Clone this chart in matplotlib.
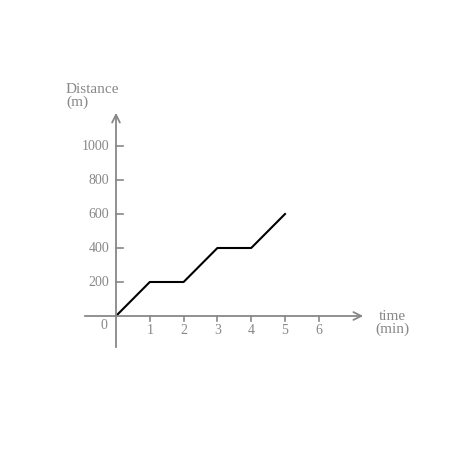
import matplotlib
matplotlib.use("Agg")
import matplotlib.pyplot as plt

time = [0, 1, 2, 3, 4, 5]
distance = [0, 200, 200, 400, 400, 600]
xticks = [1, 2, 3, 4, 5, 6]
yticks = [200, 400, 600, 800, 1000]

gray = "#888888"
fig = plt.figure(figsize=(4.74, 4.74), dpi=100)
ax = fig.add_axes([0, 0, 1, 1])
ax.axis("off")
px = 33.8
ax.set_xlim(-116/px, (474-116)/px)
ax.set_ylim(-(474-316)/34*200, 316/34*200)

fnt = dict(family="Liberation Serif", color=gray)
ax.annotate("", xy=((366-116)/px, 0), xytext=((82-116)/px, 0),
            arrowprops=dict(arrowstyle="->", color=gray, lw=1.3, mutation_scale=14))
ax.annotate("", xy=(0, (316-110)/34*200), xytext=(0, -(350-316)/34*200),
            arrowprops=dict(arrowstyle="->", color=gray, lw=1.3, mutation_scale=14))
for t in xticks:
    ax.plot([t, t], [0, -30], color=gray, lw=1.2)
    ax.text(t, -45, str(t), ha="center", va="top", fontsize=10, **fnt)
for v in yticks:
    ax.plot([0, 0.2], [v, v], color=gray, lw=1.2)
    ax.text(-0.2, v, str(v), ha="right", va="center", fontsize=10, **fnt)
ax.text(-0.25, -20, "0", ha="right", va="top", fontsize=10, **fnt)
ax.text((66-116)/px, (316-96)/34*200, "Distance\n(m)", ha="left", va="center",
        fontsize=11, linespacing=1.0, **fnt)
ax.text((392-116)/px, -(323-316)/34*200, "time\n(min)", ha="center", va="center",
        fontsize=11, linespacing=1.0, **fnt)
ax.plot(time, distance, color="black", lw=1.5)
fig.savefig("out.png", dpi=100)
